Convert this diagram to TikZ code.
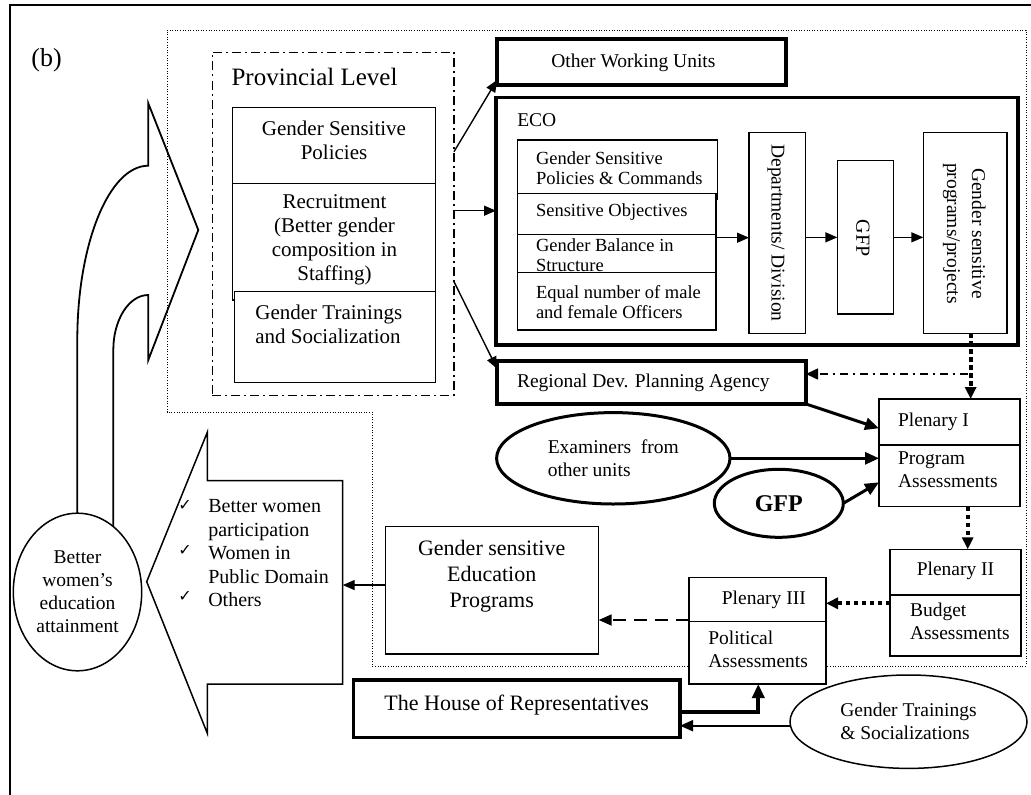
\documentclass[tikz,border=0pt]{standalone}
\usepackage{fontspec}
\setmainfont{Liberation Serif}
\newfontfamily\checkfont{DejaVu Sans}
\usetikzlibrary{arrows.meta,calc,fit,shapes.geometric}

\begin{document}
\begin{tikzpicture}[x=1pt,y=-1pt,
  every node/.style={inner sep=0pt, outer sep=0pt},
  thinbox/.style={draw, line width=1.4pt, fill=white},
  heavybox/.style={draw, line width=3.6pt, fill=white},
  oval/.style={ellipse, draw, fill=white},
  t18/.style={font=\fontsize{18.5}{20}\selectfont},
  t19/.style={font=\fontsize{19.5}{23}\selectfont},
  t21/.style={font=\fontsize{21}{24}\selectfont},
  t22/.style={font=\fontsize{22}{26}\selectfont},
  t25/.style={font=\fontsize{25}{30}\selectfont},
  arr/.style={-{Triangle[length=12pt,width=10pt]}, line width=1.4pt},
  heavyarr/.style={-{Triangle[length=14pt,width=12pt]}, line width=3pt},
  dotarr/.style={-{Triangle[length=12pt,width=11pt]}, line width=4pt, dash pattern=on 4.5pt off 3.5pt},
  dasharr/.style={-{Triangle[length=13pt,width=11pt]}, line width=1.8pt, dash pattern=on 13pt off 8pt},
  dotdasharr/.style={-{Triangle[length=12pt,width=11pt]}, line width=1.6pt, dash pattern=on 8pt off 5pt on 2pt off 5pt},
]
\useasboundingbox (0,0) rectangle (1031,795);

% outer frame
\draw[line width=2pt] (10,795) -- (10,5) -- (1031,5);

% dotted outline of the provincial organisation
\draw[line width=1pt, dash pattern=on 1pt off 1.6pt]
  (167,30) -- (1026,30) -- (1026,666) -- (372,666) -- (372,412) -- (167,412) -- cycle;

\node[font=\fontsize{26}{30}\selectfont] (tag) at (46.5,60) {(b)};

% provincial level
\node[draw, line width=1.5pt, dash pattern=on 9pt off 4pt on 2pt off 4pt,
      fit={(212.3,52.3) (454,395.7)}] (prov) {};
\node[t25] (provT) at (314.5,77) {Provincial Level};
\node[thinbox, fit={(232.7,107.3) (435.7,183.3)}] (pol) {};
\node[t21, align=center] (polT) at (334,140) {Gender Sensitive\\Policies};
\node[thinbox, fit={(232.7,183.3) (435.7,300)}] (rec) {};
\node[t21, align=center] (recT) at (334.5,240.2) {Recruitment\\(Better gender\\composition in\\Staffing)};
\node[thinbox, fit={(234.3,291.7) (435.7,382.3)}] (soc) {};
\node[t21, align=left] (socT) at (328.8,324.3) {Gender Trainings\\and Socialization};

% other working units
\node[heavybox, fit={(497,39) (786,85)}] (owu) {};
\node[t19] (owuT) at (633.4,62.5) {Other Working Units};

% ECO
\node[heavybox, fit={(496,97.3) (1018,345)}] (eco) {};
\node[t19, anchor=west] (ecoT) at (517.3,120) {ECO};
\node[thinbox, fit={(517.7,140) (717.7,199)}] (s1) {};
\node[thinbox, fit={(517.7,193.3) (716,234.3)}] (s2) {};
\node[thinbox, fit={(517.7,234.3) (716,272.7)}] (s3) {};
\node[thinbox, fit={(517.7,272.7) (716,330)}] (s4) {};
\node[t18, align=left, anchor=west] (s1T) at (536,168.3) {Gender Sensitive\\Policies \& Commands};
\node[t18, anchor=west] (s2T) at (536,211.7) {Sensitive Objectives};
\node[t18, align=left, anchor=west] (s3T) at (536,255) {Gender Balance in\\Structure};
\node[t18, align=left, anchor=west] (s4T) at (536,301.7) {Equal number of male\\and female Officers};

\node[thinbox, fit={(749,132.3) (805.7,333.3)}] (dept) {};
\node[t19, rotate=-90] (deptT) at (776,233) {Departments/ Division};
\node[thinbox, fit={(837.3,160.7) (893.3,314)}] (gfpb) {};
\node[font=\fontsize{20}{24}\selectfont, rotate=-90] (gfpbT) at (863,238) {GFP};
\node[thinbox, fit={(923.3,132.3) (1007,333.3)}] (prog) {};
\node[font=\fontsize{19.5}{25}\selectfont, rotate=-90, align=center] (progT) at (964.2,233.5) {Gender sensitive\\programs/projects};

% regional planning agency
\node[heavybox, fit={(497,360.7) (806,404)}] (reg) {};
\node[t19, anchor=west] (regT) at (517,383.3) {Regional Dev. Planning Agency};

% plenaries
\node[thinbox, fit={(879,399) (1020,506.7)}] (pl1) {};
\draw[line width=1.4pt] ($(pl1.north west)+(0,46)$) -- ($(pl1.north east)+(0,46)$);
\node[t19, anchor=west] (pl1a) at (898,421.7) {Plenary I};
\node[t19, anchor=west, align=left] (pl1b) at (898,470) {Program\\Assessments};

\node[thinbox, fit={(890,549.3) (1021,656)}] (pl2) {};
\draw[line width=1.4pt] ($(pl2.north west)+(0,45.7)$) -- ($(pl2.north east)+(0,45.7)$);
\node[t19] (pl2a) at (955.5,571) {Plenary II};
\node[t19, anchor=west, align=left] (pl2b) at (910,621.2) {Budget\\Assessments};

\node[thinbox, fit={(689,577.3) (826,684)}] (pl3) {};
\draw[line width=1.4pt] ($(pl3.north west)+(0,44.4)$) -- ($(pl3.north east)+(0,44.4)$);
\node[t19] (pl3a) at (763.8,600) {Plenary III};
\node[t19, anchor=west, align=left] (pl3b) at (708.3,649.3) {Political\\Assessments};

% examiners and focal point
\node[oval, line width=3pt, minimum width=233.4pt, minimum height=91.4pt, t19, align=left]
  (exam) at (613.3,458.3) {Examiners\ \ from\\other units};
\node[oval, line width=3pt, minimum width=129pt, minimum height=68pt,
      font=\bfseries\fontsize{24}{28}\selectfont] (gfpe) at (778.8,503.3) {GFP};

% education programs and parliament
\node[thinbox, fit={(385.7,526.7) (598.7,654)}] (edu) {};
\node[t22, align=center] (eduT) at (491.7,576) {Gender sensitive\\Education\\Programs};
\node[heavybox, fit={(353.3,680) (680,737.3)}] (house) {};
\node[t22] (houseT) at (516.7,705) {The House of Representatives};
\node[oval, line width=1.5pt, minimum width=237pt, minimum height=93.4pt, t19, align=left]
  (train) at (908.5,721.7) {Gender Trainings\\\& Socializations};

% outcomes arrow with its list
\draw[line width=1.5pt, fill=white]
  (146.7,581.7) -- (207.3,432.3) -- (207.3,480.7) -- (342.7,480.7) -- (342.7,684)
  -- (207.3,684) -- (207.3,733.3) -- cycle;
\coordinate (bulR) at (342.7,585);
\node[font=\fontsize{20}{23.5}\selectfont, anchor=west, align=left] (bulT) at (208.3,553.5)
  {Better women\\participation\\Women in\\Public Domain\\Others};
\node[font=\checkfont\fontsize{16}{16}\selectfont] (ck1) at (185,505) {✓};
\node[font=\checkfont\fontsize{16}{16}\selectfont] (ck2) at (185,550) {✓};
\node[font=\checkfont\fontsize{16}{16}\selectfont] (ck3) at (185,596.7) {✓};

% feedback arrow back to the provincial level
\draw[line width=1.8pt]
  (77.3,513.3) -- (77.3,340) .. controls (77.3,243.7) and (109.1,165.7) .. (148.3,165.7)
  -- (148.3,103.3) -- (198.3,230) -- (148.3,360) -- (148.3,295)
  .. controls (129,295) and (113.3,319.6) .. (113.3,350) -- (113.3,526.7);
\node[oval, line width=1.5pt, minimum width=128.4pt, minimum height=157.6pt, t19, align=center]
  (women) at (77.5,592) {Better\\women’s\\education\\attainment};

% connectors
\coordinate (pOut1) at ($(prov.north east)+(0,99.4)$);
\draw[arr] (pOut1) -- ($(owu.south west)+(0,-5)$);
\coordinate (pOut2) at ($(prov.north east)+(0,158.4)$);
\draw[arr] (pOut2) -- (pOut2 -| eco.west);
\coordinate (pOut3) at ($(prov.north east)+(0,229.4)$);
\draw[arr] (pOut3) -- ($(reg.north west)+(0,8)$);

\coordinate (sOut) at ($(s3.north east)+(0,3.4)$);
\draw[arr] (sOut) -- (sOut -| dept.west);
\draw[arr] (dept.east |- gfpb.west) -- (gfpb.west);
\draw[arr] (gfpb.east) -- (gfpb.east -| prog.west);

\coordinate (progOut) at ($(prog.south)+(5.5,0)$);
\draw[dotarr] (progOut) -- (progOut |- pl1.north);
\coordinate (dd) at ($(prog.south)+(3,40.7)$);
\draw[dotdasharr] (dd) -- (dd -| reg.east);

\draw[heavyarr] (reg.south east) -- ($(pl1.north west)+(0,29.3)$);
\draw[heavyarr] (exam.east) -- (exam.east -| pl1.west);
\draw[heavyarr] (gfpe.east) -- ($(pl1.north west)+(0,83.3)$);

\coordinate (pl1Out) at ($(pl1.south)+(18.2,0)$);
\draw[dotarr] (pl1Out) -- (pl1Out |- pl2.north);
\coordinate (pl2Out) at ($(pl2.north west)+(0,54)$);
\draw[dotarr] (pl2Out) -- (pl2Out -| pl3.east);
\coordinate (pl3Out) at ($(pl3.north west)+(0,42.7)$);
\draw[dasharr] (pl3Out) -- (pl3Out -| edu.east);
\coordinate (eduOut) at ($(edu.west)+(0,-5.3)$);
\draw[arr] (eduOut) -- (eduOut -| bulR);

\coordinate (hOut) at ($(house.north east)+(0,31.7)$);
\draw[-{Triangle[length=14pt,width=12pt]}, line width=3.8pt] (hOut) -| ($(pl3.south west)+(69.3,0)$);
\coordinate (tOut) at ($(train.west)+(0,4)$);
\draw[-{Triangle[length=13pt,width=11pt]}, line width=2pt] (tOut) -- (tOut -| house.east);
\end{tikzpicture}
\end{document}
